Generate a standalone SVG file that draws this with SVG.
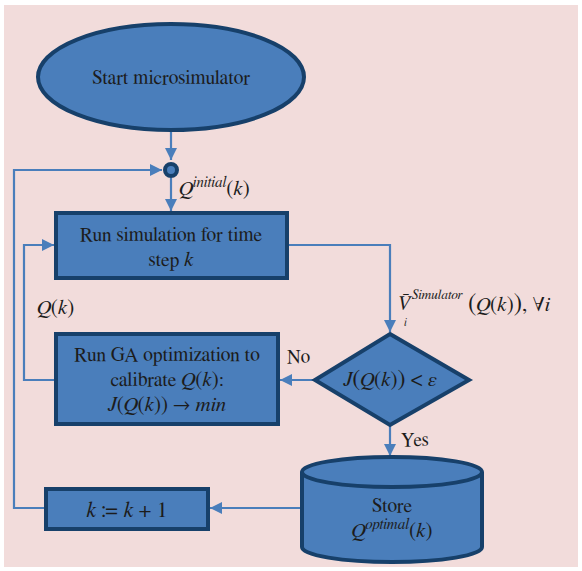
<svg xmlns="http://www.w3.org/2000/svg" width="582" height="571" viewBox="0 0 582 571">
<defs>
<style>
.node{fill:#4a7ebb;stroke:#17406a;stroke-width:4}
.conn{fill:none;stroke:#4a7ebb;stroke-width:2.2}
.t{font-family:FreeSerif,'Liberation Serif','DejaVu Serif',serif;font-size:19.5px;fill:#1c1c1c;text-anchor:middle}
.l{font-family:FreeSerif,'Liberation Serif','DejaVu Serif',serif;font-size:20px;fill:#1c1c1c}
.m{font-style:italic}
</style>
<marker id="arr" viewBox="0 0 10 10" refX="10" refY="5" markerWidth="14" markerHeight="12" markerUnits="userSpaceOnUse" orient="auto">
<path d="M0,0 L10,5 L0,10 Z" fill="#4a7ebb"/>
</marker>
</defs>
<rect x="0" y="0" width="582" height="571" fill="#ffffff"/>
<rect x="4" y="5" width="574" height="562" fill="#f2dcdb"/>

<g id="connectors">
<line class="conn" x1="171" y1="132" x2="171" y2="160" marker-end="url(#arr)"/>
<line class="conn" x1="171" y1="178" x2="171" y2="211" marker-end="url(#arr)"/>
<polyline class="conn" points="45,508 14,508 14,170 162,170" marker-end="url(#arr)"/>
<polyline class="conn" points="55,380 24,380 24,245 54,245" marker-end="url(#arr)"/>
<polyline class="conn" points="288,245 390,245 390,332" marker-end="url(#arr)"/>
<line class="conn" x1="315" y1="380" x2="280" y2="380" marker-end="url(#arr)"/>
<line class="conn" x1="390" y1="426" x2="390" y2="456" marker-end="url(#arr)"/>
<line class="conn" x1="302" y1="508" x2="210" y2="508" marker-end="url(#arr)"/>
</g>

<g id="start">
<ellipse class="node" cx="171" cy="77" rx="133" ry="53"/>
<text class="t" x="171" y="84">Start microsimulator</text>
</g>

<g id="junction">
<circle cx="171" cy="170" r="6" fill="#4a7ebb" stroke="#17406a" stroke-width="4"/>
</g>

<g id="label-qinit">
<text class="l" x="179" y="195" style="font-size:21px"><tspan class="m">Q</tspan><tspan class="m" font-size="15" dy="-8">initial</tspan><tspan dy="8">(</tspan><tspan class="m">k</tspan>)</text>
</g>

<g id="simulate">
<rect class="node" x="56" y="213" width="231" height="65"/>
<text class="t" x="171" y="241">Run simulation for time</text>
<text class="t" x="171" y="266">step <tspan class="m" font-size="21">k</tspan></text>
</g>

<g id="label-qk">
<text class="l" x="37" y="314" style="font-size:21px"><tspan class="m">Q</tspan>(<tspan class="m">k</tspan>)</text>
</g>

<g id="label-v">
<text class="l m" x="397" y="310" style="font-size:20px">V̄</text>
<text class="l m" x="404" y="326" style="font-size:11px">i</text>
<text class="l m" x="412" y="299" style="font-size:13.5px">Simulator</text>
<text class="l" x="468" y="311" style="font-size:21px"><tspan font-size="25">(</tspan><tspan class="m">Q</tspan>(<tspan class="m">k</tspan>)<tspan font-size="25">)</tspan>, ∀<tspan class="m">i</tspan></text>
</g>

<g id="decision">
<polygon class="node" points="390,334 469,380 390,425 315,380"/>
<text class="t" x="390" y="386" style="font-size:21px"><tspan class="m">J</tspan><tspan font-size="24">(</tspan><tspan class="m">Q</tspan>(<tspan class="m">k</tspan>)<tspan font-size="24">)</tspan> &lt; <tspan class="m">ε</tspan></text>
</g>

<g id="label-no">
<text class="l" x="287" y="363" style="font-size:19px">No</text>
</g>

<g id="ga">
<rect class="node" x="56" y="334" width="222" height="90"/>
<text class="t" x="167" y="361">Run GA optimization to</text>
<text class="t" x="167" y="386">calibrate <tspan class="m" font-size="21">Q</tspan><tspan font-size="21">(</tspan><tspan class="m" font-size="21">k</tspan><tspan font-size="21">)</tspan>:</text>
<text class="t" x="167" y="411" style="font-size:21px"><tspan class="m">J</tspan>(<tspan class="m">Q</tspan>(<tspan class="m">k</tspan>)) → <tspan class="m">min</tspan></text>
</g>

<g id="label-yes">
<text class="l" x="401" y="446" style="font-size:19px">Yes</text>
</g>

<g id="store">
<path class="node" d="M302,472 L302,547 A90,15 0 0 0 482,547 L482,472"/>
<ellipse class="node" cx="392" cy="472" rx="90" ry="15"/>
<text class="t" x="392" y="512">Store</text>
<text class="t" x="392" y="537" style="font-size:21px"><tspan class="m">Q</tspan><tspan class="m" font-size="15" dy="-8">optimal</tspan><tspan dy="8">(</tspan><tspan class="m">k</tspan>)</text>
</g>

<g id="increment">
<rect class="node" x="46" y="489" width="162" height="40"/>
<text class="t" x="127" y="517" style="font-size:22px"><tspan class="m">k</tspan> ≔ <tspan class="m">k</tspan> + 1</text>
</g>
</svg>
